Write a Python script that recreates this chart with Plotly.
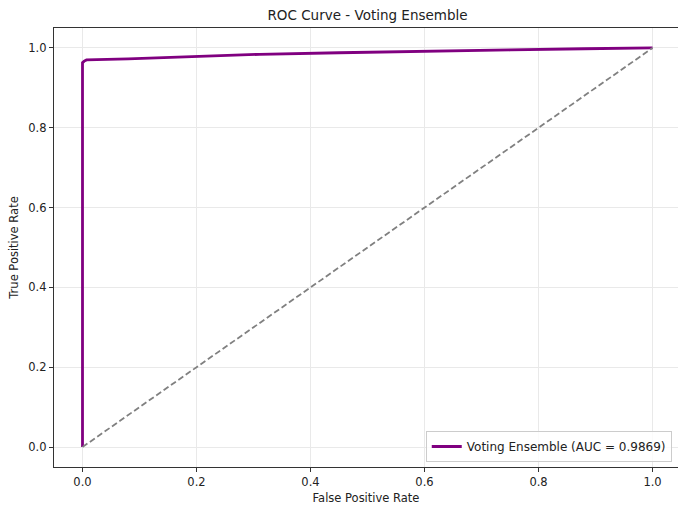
import plotly.graph_objects as go

# ROC data
fpr = [0.0, 0.0, 0.003, 0.007, 0.08, 0.17, 0.2, 0.31, 0.45, 0.59, 0.75, 0.88, 1.0]
tpr = [0.0, 0.963, 0.967, 0.970, 0.9725, 0.977, 0.980, 0.984, 0.988, 0.992, 0.995, 0.998, 1.0]
diag_x = [0.0, 1.0]
diag_y = [0.0, 1.0]
auc_value = 0.9869
tick_vals = [0.0, 0.2, 0.4, 0.6, 0.8, 1.0]
tick_text = ["0.0", "0.2", "0.4", "0.6", "0.8", "1.0"]

FONT = "DejaVu Sans"
TXT = "#222222"

fig = go.Figure()
fig.add_trace(go.Scatter(
    x=fpr, y=tpr, mode="lines",
    line=dict(color="#800080", width=2.8),
    name=f"Voting Ensemble (AUC = {auc_value:.4f})",
))
fig.add_trace(go.Scatter(
    x=diag_x, y=diag_y, mode="lines",
    line=dict(color="#808080", width=1.8, dash="6px,3px"),
    showlegend=False,
))

axis_common = dict(
    tickvals=tick_vals, ticktext=tick_text,
    showgrid=True, gridcolor="#e9e9e9", gridwidth=1,
    zeroline=False,
    showline=True, linecolor="#333333", linewidth=1.2,
    ticks="outside", ticklen=4, tickwidth=1, tickcolor="#333333",
    tickfont=dict(family=FONT, size=11.5, color=TXT),
)

fig.update_layout(
    width=678, height=505,
    margin=dict(l=54, r=0, t=28, b=38),
    paper_bgcolor="white", plot_bgcolor="white",
    font=dict(family=FONT, color=TXT),
    title=dict(
        text="ROC Curve - Voting Ensemble",
        x=367.5 / 678, xref="container", xanchor="center",
        y=1 - 15 / 505, yref="container", yanchor="middle",
        font=dict(family=FONT, size=13.5, color=TXT),
    ),
    xaxis=dict(
        range=[-0.05, 1.0447],
        mirror=True,
        title=dict(text="False Positive Rate", standoff=6,
                   font=dict(family=FONT, size=11.5, color=TXT)),
        **axis_common,
    ),
    yaxis=dict(
        range=[-0.05, 1.05],
        title=dict(text="True Positive Rate", standoff=7,
                   font=dict(family=FONT, size=11.5, color=TXT)),
        **axis_common,
    ),
    legend=dict(
        x=0.990, y=0.0114, xanchor="right", yanchor="bottom",
        bgcolor="rgba(255,255,255,0.8)", bordercolor="#cccccc", borderwidth=1,
        font=dict(family=FONT, size=12, color=TXT),
        itemwidth=30,
    ),
)

fig.write_html("out.html")
